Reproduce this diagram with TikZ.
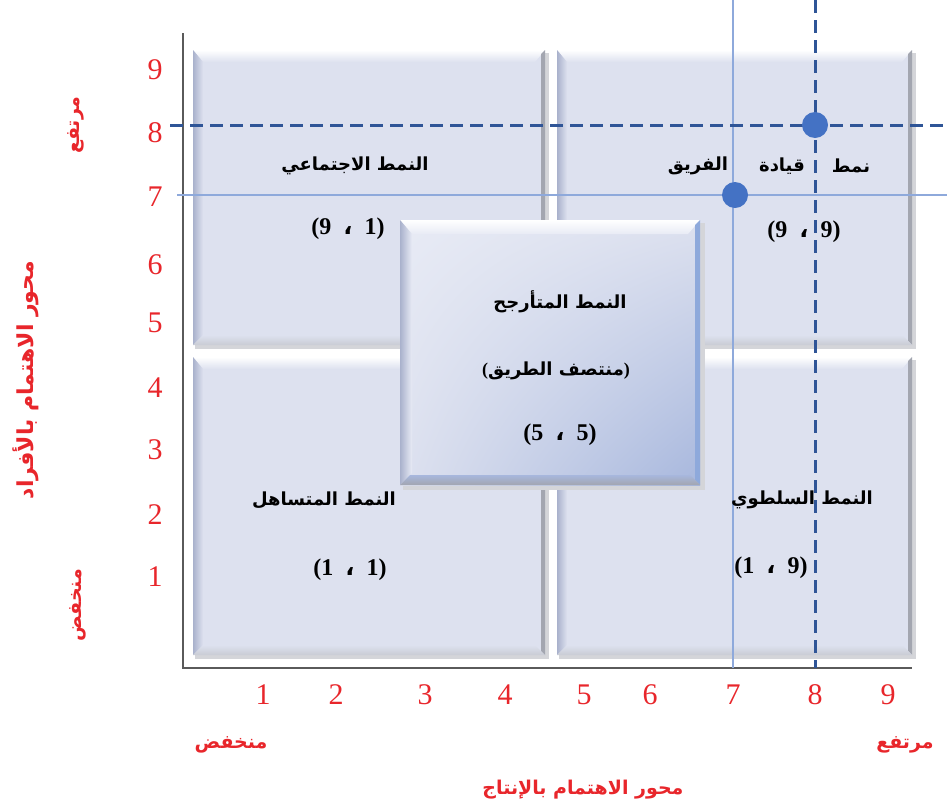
\documentclass[tikz,border=0pt]{standalone}
\usepackage{fontspec}
\setmainfont{Liberation Serif}
\newfontfamily\arabicfont[Script=Arabic]{DejaVu Sans}
\TeXXeTstate=1
\usetikzlibrary{shadings}
\definecolor{axisred}{HTML}{E8262B}
\definecolor{axisgray}{HTML}{5A5A5A}
\definecolor{guidedark}{HTML}{2F5597}
\definecolor{guidelight}{HTML}{8EA9DB}
\definecolor{dotblue}{HTML}{4472C4}
\definecolor{boxface}{HTML}{DDE1EF}
\definecolor{boxleft}{HTML}{A9B1CC}
\definecolor{boxright}{HTML}{A3A6B0}
\definecolor{boxbottom}{HTML}{C9CCD4}
\definecolor{boxshadow}{HTML}{D4D5D9}
\definecolor{midlight}{HTML}{E8EBF5}
\definecolor{middark}{HTML}{A7B7DD}
\newcommand{\bevelbox}[4]{%
 \fill[boxshadow] (#1+2,#2+3) rectangle (#3+4,#4+4);
 \fill[boxface] (#1,#2) rectangle (#3,#4);
 \shade[top color=white,bottom color=boxface] (#1,#2)--(#3,#2)--(#3-10,#2+12)--(#1+10,#2+12)--cycle;
 \shade[left color=boxleft,right color=boxface] (#1,#2)--(#1+10,#2+12)--(#1+10,#4-10)--(#1,#4)--cycle;
 \fill[boxright] (#3,#2)--(#3,#4)--(#3-4,#4-4)--(#3-4,#2+4)--cycle;
 \shade[top color=boxface,bottom color=boxbottom] (#1,#4)--(#3,#4)--(#3-10,#4-10)--(#1+10,#4-10)--cycle;
}
\newcommand{\pairtext}[2]{(#1\ \ {\arabicfont ،}\ \ #2)}
\newcommand{\ar}[1]{{\arabicfont\beginR #1\endR}}
\newcommand{\lat}[1]{{\rmfamily\bfseries #1}}

\begin{document}
\begin{tikzpicture}[x=1pt,y=-1pt,
 tick/.style={text=axisred,font=\fontsize{30}{30}\selectfont,inner sep=0pt},
 axislabel/.style={text=axisred,font=\arabicfont\bfseries\fontsize{19}{22}\selectfont,inner sep=0pt},
 stylelabel/.style={font=\arabicfont\bfseries\fontsize{18}{21}\selectfont,inner sep=0pt},
 pairlabel/.style={font=\bfseries\fontsize{24}{26}\selectfont,inner sep=0pt},
 guidesolid/.style={guidelight,line width=2pt},
 guidedash/.style={guidedark,line width=3pt,dash pattern=on 13pt off 7pt},
 dot/.style={circle,fill=dotblue,minimum size=26pt,inner sep=0pt}]
 \useasboundingbox (0,0) rectangle (947,809);
 % four quadrants
 \bevelbox{193}{50}{545}{345}
 \bevelbox{557}{50}{912}{345}
 \bevelbox{193}{357}{545}{655}
 \bevelbox{557}{357}{912}{655}
 % middle box
 \fill[boxshadow] (403,223) rectangle (705,490);
 \shade[upper left=midlight,upper right=boxface,lower left=boxface,lower right=middark]
 (400,220) rectangle (700,485);
 \shade[top color=white,bottom color=midlight] (400,220)--(700,220)--(688,234)--(412,234)--cycle;
 \shade[left color=boxleft,right color=midlight] (400,220)--(412,234)--(412,473)--(400,485)--cycle;
 \fill[guidelight] (700,220)--(700,485)--(695,480)--(695,225)--cycle;
 \shade[top color=middark,bottom color=boxright] (400,485)--(700,485)--(690,475)--(410,475)--cycle;
 % axes
 \draw[axisgray,line width=2.5pt] (183,33)--(183,668)--(912,668);
 % guide lines
 \draw[guidesolid] (177,195)--(947,195);
 \draw[guidesolid] (733,0)--(733,668);
 \draw[guidedash] (170,125)--(947,125);
 \draw[guidedash] (815,0)--(815,668);
 \node[dot] (teamdot) at (815,125) {};
 \node[dot] (pointdot) at (735,195) {};
 % ticks
 \foreach \n/\yy in {1/577,2/515,3/450,4/388,5/323,6/265,7/197,8/133,9/70}
 \node[tick] (ytick\n) at (155,\yy) {\n};
 \foreach \n/\xx in {1/263,2/336,3/425,4/505,5/584,6/650,7/733,8/815,9/888}
 \node[tick] (xtick\n) at (\xx,695) {\n};
 % axis labels
 \node[axislabel,rotate=90] (yhigh) at (76,125) {\ar{مرتفع}};
 \node[axislabel,rotate=90] (ylow) at (78,605) {\ar{منخفض}};
 \node[axislabel,rotate=90,font=\arabicfont\bfseries\fontsize{22}{24}\selectfont] (ytitle) at (26,380) {\ar{محور الاهتمام بالأفراد}};
 \node[axislabel] (xlow) at (231,745) {\ar{منخفض}};
 \node[axislabel] (xhigh) at (905,745) {\ar{مرتفع}};
 \node[axislabel] (xtitle) at (583,790) {\ar{محور الاهتمام بالإنتاج}};
 % style labels
 \node[stylelabel] (social) at (355,166) {\ar{النمط الاجتماعي}};
 \node[pairlabel] (socialpair) at (348,229) {\pairtext{9}{1}};
 \node[stylelabel] (teamA) at (851,166) {\ar{نمط}};
 \node[stylelabel] (teamB) at (782,166) {\ar{قيادة}};
 \node[stylelabel] (teamC) at (698,166) {\ar{الفريق}};
 \node[pairlabel] (teampair) at (804,232) {\pairtext{9}{9}};
 \node[stylelabel] (middle) at (560,302) {\ar{النمط المتأرجح}};
 \node[stylelabel] (middleB) at (556,371) {\lat{(}\ar{منتصف الطريق}\lat{)}};
 \node[pairlabel] (middlepair) at (560,435) {\pairtext{5}{5}};
 \node[stylelabel] (lax) at (324,500) {\ar{النمط المتساهل}};
 \node[pairlabel] (laxpair) at (350,570) {\pairtext{1}{1}};
 \node[stylelabel] (strict) at (802,500) {\ar{النمط السلطوي}};
 \node[pairlabel] (strictpair) at (771,568) {\pairtext{1}{9}};
\end{tikzpicture}
\end{document}
